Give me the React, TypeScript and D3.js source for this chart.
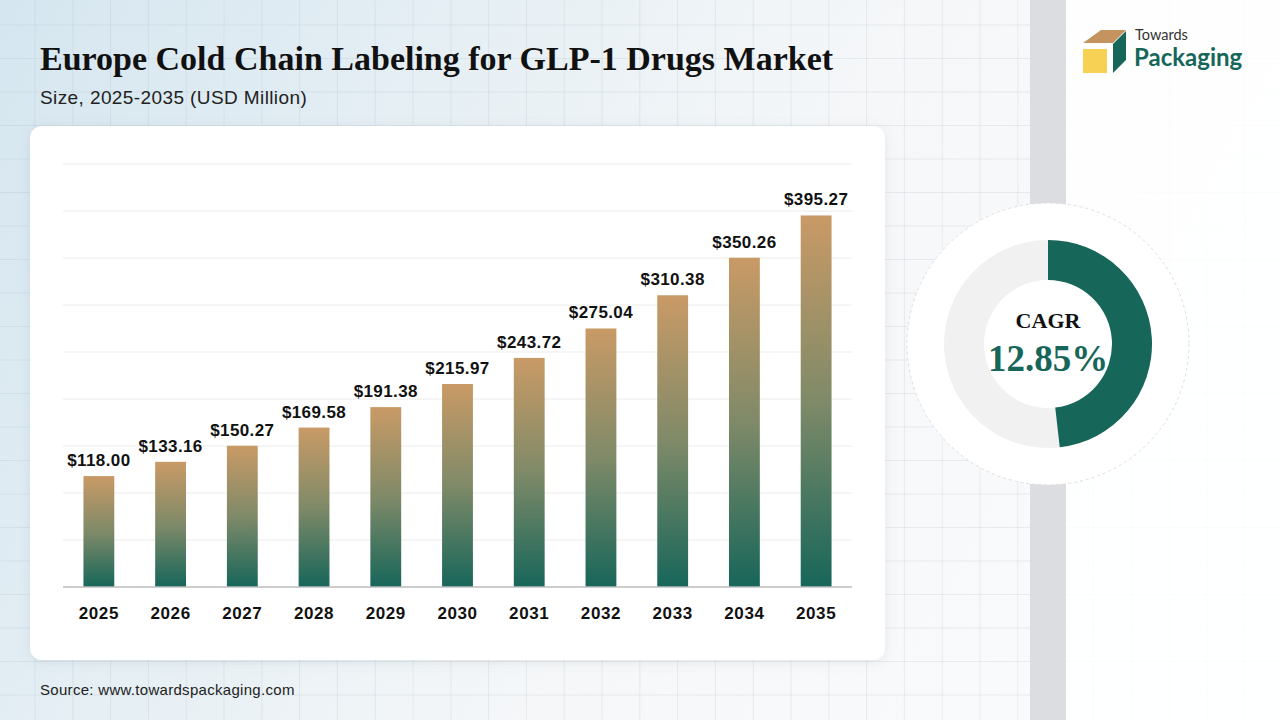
import * as d3 from 'd3'

const years = ['2025', '2026', '2027', '2028', '2029', '2030', '2031', '2032', '2033', '2034', '2035']
const marketSize = [118.0, 133.16, 150.27, 169.58, 191.38, 215.97, 243.72, 275.04, 310.38, 350.26, 395.27]
const yTicks = [0, 50, 100, 150, 200, 250, 300, 350, 400, 450]
const cagrLabel = '12.85%'
const cagrArcShare = 0.482

const W = 1280
const H = 720
const TEAL = '#17665a'
const TAN = '#c99a66'
const SANS = '"Liberation Sans", Arial, sans-serif'
const SERIF = '"Liberation Serif", "Times New Roman", serif'

const plot = { left: 63, right: 852, top: 164, bottom: 587 }

function Background() {
  const vLines = d3.range(35, W, 37.8)
  const hLines = d3.range(25, H, 33.5)
  return (
    <g>
      <defs>
        <linearGradient id="bg" x1="0" x2="1" y1="0" y2="0.3">
          <stop offset="0%" stopColor="#d5e6f0" />
          <stop offset="35%" stopColor="#e6eff4" />
          <stop offset="65%" stopColor="#f5f7f9" />
          <stop offset="100%" stopColor="#f9fafb" />
        </linearGradient>
      </defs>
      <rect width={W} height={H} fill="url(#bg)" />
      {vLines.map((x) => (
        <line key={`v${x}`} x1={x} x2={x} y1={0} y2={H} stroke="#9fb3c2" strokeOpacity={0.2} />
      ))}
      {hLines.map((y) => (
        <line key={`h${y}`} x1={0} x2={W} y1={y} y2={y} stroke="#9fb3c2" strokeOpacity={0.2} />
      ))}
      <rect x={1066} y={0} width={W - 1066} height={H} fill="#ffffff" opacity={0.85} />
      <rect x={1030} y={0} width={36} height={H} fill="#dcdde0" />
    </g>
  )
}

function Logo() {
  return (
    <g>
      <polygon points="1083,43 1101,30 1126,30 1113,43" fill="#c4935f" />
      <polygon points="1113,44 1126,31 1126,60 1113,73" fill="#17665a" />
      <rect x={1083} y={49} width={24} height={24} fill="#f7d154" />
      <text x={1135} y={40} fontFamily='Lato, "Noto Sans", sans-serif' fontSize={14.5} fill="#333">
        Towards
      </text>
      <text x={1134} y={66} fontFamily='Lato, "Noto Sans", sans-serif' fontWeight={700} fontSize={24} fill={TEAL}>
        Packaging
      </text>
    </g>
  )
}

function BarChart() {
  const x = d3.scaleBand().domain(years).range([plot.left, plot.right]).paddingInner(0.57).paddingOuter(0.285)
  const y = d3.scaleLinear().domain([0, 450]).range([plot.bottom, plot.top])

  return (
    <g>
      <defs>
        <linearGradient id="barGrad" x1="0" x2="0" y1="0" y2="1">
          <stop offset="0%" stopColor={TAN} />
          <stop offset="50%" stopColor="#7f8a68" />
          <stop offset="100%" stopColor={TEAL} />
        </linearGradient>
      </defs>
      {yTicks.slice(1).map((t) => (
        <line key={t} x1={plot.left} x2={plot.right} y1={y(t)} y2={y(t)} stroke="#ececec" strokeWidth={1} />
      ))}
      {years.map((yr, i) => {
        const v = marketSize[i]
        const bx = x(yr) ?? 0
        return (
          <g key={yr}>
            <rect x={bx} y={y(v)} width={x.bandwidth()} height={y(0) - y(v)} fill="url(#barGrad)" />
            <text
              x={bx + x.bandwidth() / 2}
              y={y(v) - 10}
              textAnchor="middle"
              fontFamily={SANS}
              fontWeight={700}
              fontSize={17}
              letterSpacing={0.4}
              fill="#111"
            >
              ${v.toFixed(2)}
            </text>
            <text
              x={bx + x.bandwidth() / 2}
              y={619}
              textAnchor="middle"
              fontFamily={SANS}
              fontWeight={700}
              fontSize={17}
              letterSpacing={0.6}
              fill="#111"
            >
              {yr}
            </text>
          </g>
        )
      })}
      <line x1={plot.left} x2={plot.right} y1={y(0)} y2={y(0)} stroke="#bdbdbd" strokeWidth={1.5} />
    </g>
  )
}

function Donut() {
  const cx = 1048
  const cy = 344
  const arc = d3.arc<{ start: number; end: number }>()
    .innerRadius(64)
    .outerRadius(104)
    .startAngle((d) => d.start)
    .endAngle((d) => d.end)
  const split = cagrArcShare * Math.PI * 2
  return (
    <g>
      <circle cx={cx} cy={cy} r={141} fill="#ffffff" stroke="#dedede" strokeDasharray="3 3" />
      <g transform={`translate(${cx},${cy})`}>
        <path d={arc({ start: split, end: Math.PI * 2 }) ?? ''} fill="#f1f1f1" />
        <path d={arc({ start: 0, end: split }) ?? ''} fill={TEAL} />
        <text y={-16} textAnchor="middle" fontFamily={SERIF} fontWeight={700} fontSize={22} fill="#111">
          CAGR
        </text>
        <text y={27} textAnchor="middle" fontFamily={SERIF} fontWeight={700} fontSize={37} fill={TEAL}>
          {cagrLabel}
        </text>
      </g>
    </g>
  )
}

export default function App() {
  return (
    <svg width={W} height={H} style={{ position: 'absolute', left: 0, top: 0 }}>
      <defs>
        <filter id="cardShadow" x="-10%" y="-10%" width="120%" height="120%">
          <feDropShadow dx={0} dy={2} stdDeviation={6} floodColor="#6a7c88" floodOpacity={0.15} />
        </filter>
      </defs>
      <Background />
      <Logo />
      <text x={40} y={70} fontFamily={SERIF} fontWeight={700} fontSize={34} fill="#111">
        Europe Cold Chain Labeling for GLP-1 Drugs Market
      </text>
      <text x={40} y={104} fontFamily={SANS} fontSize={19} letterSpacing={0.4} fill="#222">
        Size, 2025-2035 (USD Million)
      </text>
      <rect x={30} y={126} width={855} height={534} rx={12} fill="#ffffff" filter="url(#cardShadow)" />
      <BarChart />
      <Donut />
      <text x={40} y={695} fontFamily={SANS} fontSize={15} letterSpacing={0.3} fill="#222">
        Source: www.towardspackaging.com
      </text>
    </svg>
  )
}
